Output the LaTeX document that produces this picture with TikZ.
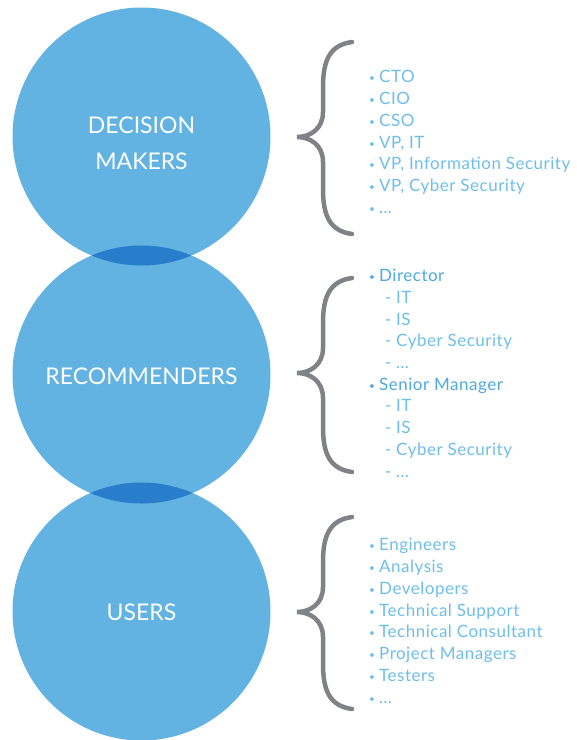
\documentclass[tikz,border=0pt]{standalone}
\usepackage{fontspec}
\setmainfont{Lato}
\newfontfamily\listfont[LetterSpace=3]{Lato}
\definecolor{circblue}{HTML}{62B2E2}
\definecolor{lensblue}{HTML}{2A7DCB}
\definecolor{listblue}{HTML}{6EBEEA}
\definecolor{headblue}{HTML}{4FA9E0}
\definecolor{bracegray}{HTML}{7F8387}
\newcommand{\bul}{\makebox[10pt][l]{\fontsize{10}{10}\selectfont\raisebox{1pt}{•}}}
\newcommand{\dsh}{\hspace*{16pt}\makebox[11pt][l]{-}}
\begin{document}
\begin{tikzpicture}[x=1pt,y=-1pt,
    circ/.style={circle,fill=circblue,minimum size=258pt,inner sep=0pt},
    tag/.style={text=white,font=\fontsize{23}{23}\selectfont,anchor=base,inner sep=0pt},
    item/.style={text=listblue,font=\listfont\fontsize{17}{17}\selectfont,anchor=base west,inner sep=0pt},
    head/.style={item,text=headblue},
    brace/.style={draw=bracegray,line width=4.5pt,line cap=round}]
  \useasboundingbox (0,0) rectangle (577,740);
  % the three groups
  \node[circ] (dm) at (141.5,136.5) {};
  \node[circ] (rec) at (141.5,374.5) {};
  \node[circ] (usr) at (141.5,611.5) {};
  % darker lens where two circles meet
  \begin{scope}
    \clip (dm.center) circle (129pt);
    \fill[lensblue] (rec.center) circle (129pt);
  \end{scope}
  \begin{scope}
    \clip (rec.center) circle (129pt);
    \fill[lensblue] (usr.center) circle (129pt);
  \end{scope}
  \node[tag] (dm-top) at (141.5,133.3) {DECISION};
  \node[tag] (dm-bot) at (141.5,169.3) {MAKERS};
  \node[tag] (rec-txt) at (141.5,384.5) {RECOMMENDERS};
  \node[tag] (usr-txt) at (141.5,620.5) {USERS};
  % curly braces
  \foreach \t/\m/\b in {42/137/234,278/373/472,517/612/709}
    \draw[brace] (352,\t) .. controls (330,\t+3) and (323,\t+18) .. (323,\t+45)
      -- (323,\m-25) .. controls (323,\m-8) and (310,\m) .. (297,\m)
      .. controls (310,\m) and (323,\m+8) .. (323,\m+25)
      -- (323,\b-45) .. controls (323,\b-18) and (330,\b-3) .. (352,\b);
  % lists
  \foreach \txt [count=\i] in {CTO,CIO,CSO,{VP, IT},{VP, Information Security},{VP, Cyber Security},\ldots}
    \node[item] (dm-\i) at (369,{82.7+21.8*(\i-1)}) {\bul\txt};
  \foreach \txt/\sty [count=\i] in {\bul Director/head,\dsh IT/item,\dsh IS/item,\dsh Cyber Security/item,\dsh\ldots/item,
      \bul Senior Manager/head,\dsh IT/item,\dsh IS/item,\dsh Cyber Security/item,\dsh\ldots/item}
    \node[\sty] (rec-\i) at (369,{281.7+21.7*(\i-1)}) {\txt};
  \foreach \txt [count=\i] in {Engineers,Analysis,Developers,Technical Support,Technical Consultant,Project Managers,Testers,\ldots}
    \node[item] (usr-\i) at (369,{550.7+21.8*(\i-1)}) {\bul\txt};
\end{tikzpicture}
\end{document}
